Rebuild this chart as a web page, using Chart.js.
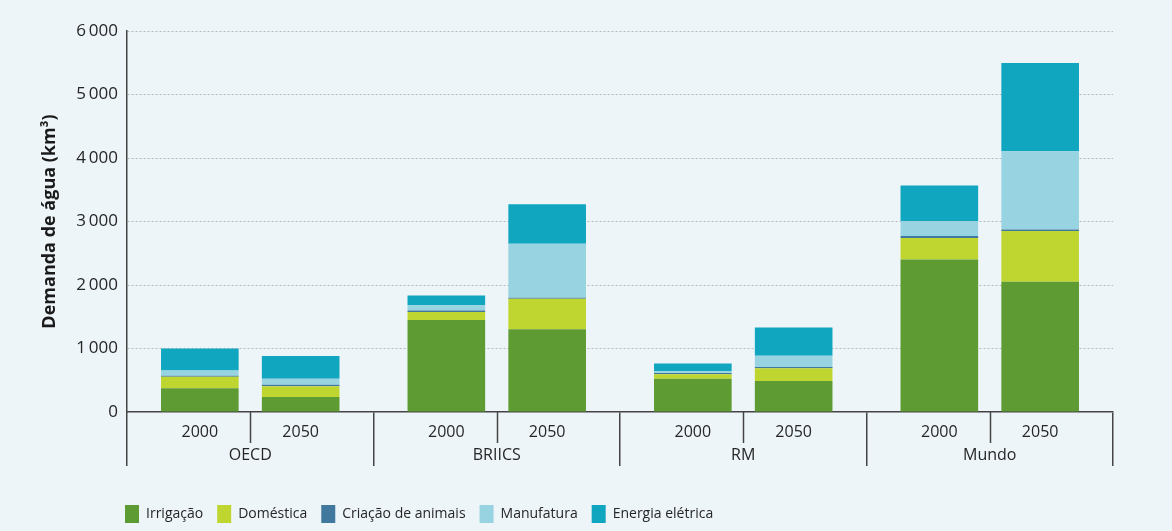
<!DOCTYPE html>
<html lang="pt">
<head>
<meta charset="utf-8">
<title>Demanda de água</title>
<script src="https://cdn.jsdelivr.net/npm/chart.js@4.4.1/dist/chart.umd.min.js"></script>
<style>
  html, body { margin: 0; padding: 0; background: #eef5f9; }
  #wrap { width: 1172px; height: 531px; position: relative; }
</style>
</head>
<body>
<div id="wrap"><canvas id="myChart"></canvas></div>
<script>
// regiões e anos
const regions = ["OECD", "BRIICS", "RM", "Mundo"];
const years = ["2000", "2050"];
const series = ["Irrigação", "Doméstica", "Criação de animais", "Manufatura", "Energia elétrica"];

// km3 (OECD, BRIICS, RM, Mundo)
const irrigacao2000  = [375, 1450, 525, 2400];
const domestica2000  = [180, 125, 70, 340];
const animais2000    = [15, 25, 20, 30];
const manufatura2000 = [85, 80, 25, 235];
const energia2000    = [345, 155, 125, 560];

const irrigacao2050  = [235, 1305, 490, 2050];
const domestica2050  = [170, 480, 200, 800];
const animais2050    = [25, 15, 20, 25];
const manufatura2050 = [95, 850, 175, 1230];
const energia2050    = [355, 620, 445, 1390];

const yTicks = [0, 1000, 2000, 3000, 4000, 5000, 6000];

const colors = ["#5e9b33", "#bed62f", "#41789e", "#97d3e1", "#11a6bf"];
const values = {
  "2000": [irrigacao2000, domestica2000, animais2000, manufatura2000, energia2000],
  "2050": [irrigacao2050, domestica2050, animais2050, manufatura2050, energia2050]
};

let datasets = [];
years.forEach(function (yr) {
  series.forEach(function (name, i) {
    datasets.push({
      label: name,
      data: values[yr][i],
      stack: yr,
      backgroundColor: colors[i],
      borderWidth: 0,
      categoryPercentage: 0.818,
      barPercentage: 0.77
    });
  });
});

const FONT = '"Open Sans", sans-serif';
const TEXT = "#262626";

function fmt(v) {
  return String(v).replace(/\B(?=(\d{3})+(?!\d))/g, "\u2009");
}

// anos sob cada barra, tracinho entre eles, e posição da legenda
const yearAxis = {
  id: "yearAxis",
  afterLayout(chart) {
    chart.legend.left = 125 - chart.legend.options.labels.padding;
    chart.legend.top += 2;
  },
  afterDraw(chart) {
    let ctx = chart.ctx;
    let xs = chart.scales.x;
    let m0 = chart.getDatasetMeta(0);
    let m1 = chart.getDatasetMeta(series.length);
    ctx.save();
    ctx.font = "16px " + FONT;
    ctx.fillStyle = TEXT;
    ctx.textAlign = "center";
    ctx.textBaseline = "middle";
    ctx.strokeStyle = "#444";
    ctx.lineWidth = 1.5;
    regions.forEach(function (r, i) {
      let a = m0.data[i].x;
      let b = m1.data[i].x;
      ctx.fillText(years[0], a, xs.top + 20);
      ctx.fillText(years[1], b, xs.top + 20);
      let mid = Math.round((a + b) / 2) + 0.5;
      ctx.beginPath();
      ctx.moveTo(mid, xs.top);
      ctx.lineTo(mid, xs.top + 31);
      ctx.stroke();
    });
    ctx.restore();
  }
};

let waterChart = new Chart(document.getElementById("myChart"), {
  type: "bar",
  data: { labels: regions, datasets: datasets },
  plugins: [yearAxis],
  options: {
    responsive: true,
    maintainAspectRatio: false,
    animation: false,
    layout: { padding: { top: 31, right: 59, left: 0, bottom: 0 } },
    scales: {
      x: {
        stacked: true,
        afterFit: function (scale) { scale.height = 77; },
        grid: {
          offset: true,
          drawOnChartArea: false,
          drawTicks: true,
          tickLength: 54,
          color: "#444",
          lineWidth: 1.5
        },
        border: { display: true, color: "#444", width: 1.5 },
        ticks: {
          padding: -20,
          color: TEXT,
          font: { family: FONT, size: 16 }
        }
      },
      y: {
        stacked: true,
        min: 0,
        max: 6000,
        afterFit: function (scale) { scale.width = 127; },
        afterBuildTicks: function (scale) {
          scale.ticks = yTicks.map(function (v) { return { value: v }; });
        },
        grid: {
          drawTicks: false,
          color: function (c) { return c.tick && c.tick.value === 0 ? "rgba(0,0,0,0)" : "#b4b8bb"; },
          lineWidth: 1
        },
        border: {
          display: true,
          color: "#444",
          width: 1.5,
          dash: function (c) { return c.tick ? [2, 2] : []; }
        },
        ticks: {
          padding: 9,
          color: TEXT,
          font: { family: FONT, size: 17 },
          callback: function (v) { return fmt(v); }
        },
        title: {
          display: true,
          text: "Demanda de água (km³)",
          color: "#1a1a1a",
          font: { family: FONT, size: 18, weight: "bold" },
          padding: { top: 39 }
        }
      }
    },
    plugins: {
      title: { display: false },
      tooltip: { enabled: false },
      legend: {
        display: true,
        position: "bottom",
        align: "start",
        labels: {
          boxWidth: 14,
          boxHeight: 18,
          padding: 14,
          color: TEXT,
          font: { family: FONT, size: 14 },
          filter: function (item) { return item.datasetIndex < series.length; }
        }
      }
    }
  }
});
</script>
</body>
</html>
